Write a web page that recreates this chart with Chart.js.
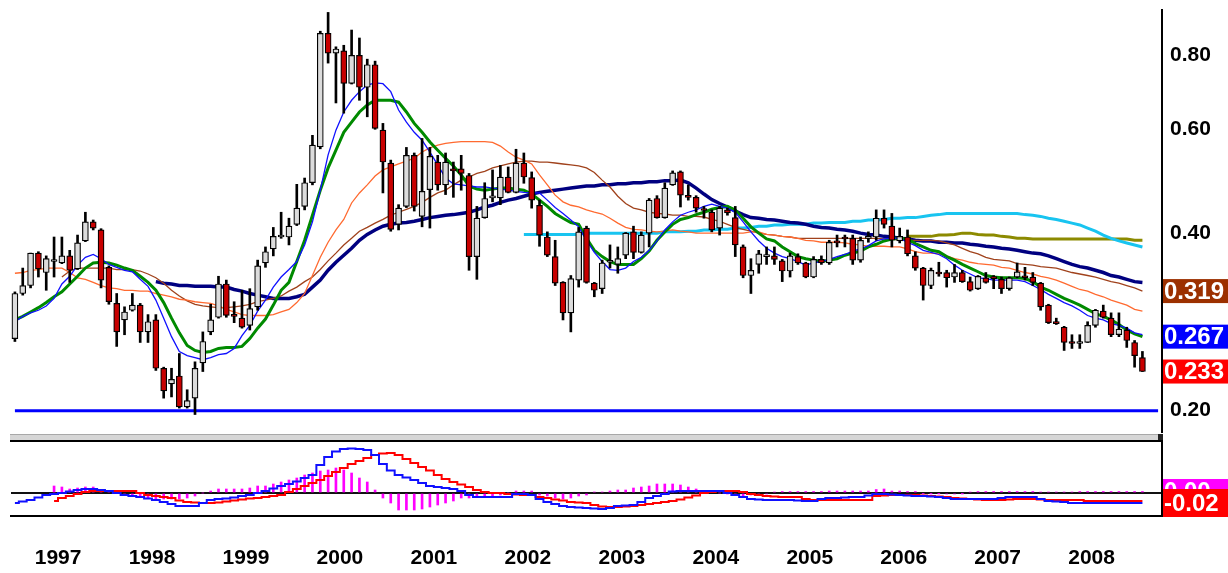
<!DOCTYPE html>
<html>
<head>
<meta charset="utf-8">
<script src="https://cdn.jsdelivr.net/npm/chart.js@4.4.0/dist/chart.umd.min.js"></script>
<style>
  body { margin: 0; background: #fff; width: 1228px; height: 573px; overflow: hidden; position: relative; }
  canvas { position: absolute; left: 0; }
  #price { top: 0; }
  #macd { top: 434px; }
</style>
</head>
<body>
<canvas id="price" width="1228" height="434"></canvas>
<canvas id="macd" width="1228" height="139"></canvas>
<script>
// *** DATA *** (monthly, Jan 1997 .. Jan 2009)
var years = ['1997','1998','1999','2000','2001','2002','2003','2004','2005','2006','2007','2008','2009'];
var slots = 147; // 145 candles + 2 empty slots on the right

var opens = [0.265,0.316,0.326,0.370,0.343,0.358,0.356,0.366,0.348,0.388,0.418,0.405,
  0.350,0.304,0.285,0.296,0.302,0.272,0.285,0.236,0.222,0.229,0.203,0.210,
  0.241,0.272,0.288,0.328,0.291,0.287,0.279,0.300,0.356,0.376,0.394,0.394,
  0.414,0.444,0.487,0.560,0.873,0.808,0.815,0.718,0.801,0.707,0.772,0.598,
  0.526,0.414,0.444,0.542,0.427,0.474,0.528,0.483,0.512,0.514,0.501,0.365,
  0.425,0.459,0.459,0.498,0.469,0.526,0.497,0.446,0.394,0.365,0.330,0.293,
  0.333,0.408,0.329,0.322,0.357,0.354,0.367,0.402,0.371,0.400,0.458,0.425,
  0.483,0.508,0.462,0.460,0.439,0.434,0.408,0.438,0.425,0.379,0.339,0.354,
  0.365,0.366,0.359,0.345,0.365,0.356,0.337,0.361,0.356,0.386,0.394,0.392,
  0.360,0.392,0.394,0.424,0.411,0.388,0.394,0.366,0.349,0.326,0.343,0.343,
  0.337,0.343,0.331,0.322,0.336,0.337,0.334,0.322,0.337,0.338,0.337,0.329,
  0.302,0.283,0.277,0.262,0.260,0.261,0.279,0.295,0.287,0.269,0.274,0.261,
  0.246];
var highs = [0.318,0.349,0.370,0.372,0.366,0.394,0.394,0.374,0.397,0.434,0.421,0.407,
  0.352,0.316,0.300,0.316,0.304,0.291,0.291,0.237,0.236,0.250,0.217,0.242,
  0.272,0.303,0.338,0.333,0.306,0.320,0.322,0.360,0.379,0.409,0.434,0.424,
  0.484,0.496,0.586,0.880,0.947,0.828,0.833,0.884,0.857,0.789,0.783,0.614,
  0.532,0.447,0.559,0.547,0.579,0.559,0.542,0.547,0.528,0.542,0.505,0.444,
  0.487,0.512,0.521,0.518,0.555,0.547,0.508,0.455,0.402,0.389,0.331,0.339,
  0.409,0.411,0.330,0.360,0.382,0.379,0.401,0.411,0.402,0.458,0.463,0.487,
  0.510,0.510,0.483,0.463,0.444,0.438,0.444,0.441,0.444,0.382,0.362,0.374,
  0.379,0.379,0.361,0.370,0.369,0.357,0.365,0.366,0.389,0.397,0.397,0.397,
  0.394,0.402,0.438,0.438,0.432,0.408,0.405,0.372,0.350,0.349,0.357,0.346,
  0.354,0.346,0.337,0.339,0.343,0.339,0.337,0.337,0.356,0.350,0.343,0.330,
  0.303,0.287,0.278,0.269,0.269,0.283,0.297,0.302,0.293,0.293,0.277,0.263,
  0.252];
var lows = [0.262,0.314,0.323,0.337,0.320,0.337,0.355,0.330,0.347,0.387,0.405,0.323,
  0.303,0.257,0.269,0.295,0.261,0.261,0.234,0.210,0.211,0.202,0.202,0.197,
  0.233,0.269,0.287,0.288,0.282,0.276,0.274,0.296,0.350,0.366,0.392,0.382,
  0.412,0.438,0.483,0.556,0.777,0.665,0.639,0.716,0.672,0.630,0.600,0.468,
  0.403,0.405,0.442,0.436,0.410,0.408,0.473,0.465,0.460,0.473,0.346,0.334,
  0.424,0.452,0.447,0.468,0.468,0.486,0.441,0.380,0.365,0.326,0.285,0.272,
  0.324,0.329,0.312,0.316,0.349,0.342,0.362,0.362,0.370,0.379,0.424,0.424,
  0.482,0.443,0.455,0.434,0.424,0.402,0.397,0.429,0.365,0.336,0.316,0.342,
  0.354,0.354,0.331,0.337,0.354,0.336,0.336,0.354,0.354,0.379,0.379,0.354,
  0.357,0.386,0.389,0.408,0.379,0.385,0.366,0.346,0.308,0.322,0.338,0.324,
  0.330,0.330,0.319,0.321,0.329,0.322,0.316,0.320,0.336,0.333,0.326,0.296,
  0.281,0.280,0.253,0.255,0.255,0.261,0.277,0.287,0.267,0.267,0.256,0.237,
  0.233];
var closes = [0.316,0.326,0.370,0.348,0.362,0.360,0.366,0.346,0.385,0.418,0.408,0.333,
  0.306,0.272,0.294,0.302,0.272,0.283,0.236,0.216,0.226,0.203,0.208,0.236,
  0.262,0.285,0.328,0.290,0.289,0.277,0.298,0.352,0.372,0.395,0.396,0.411,
  0.441,0.487,0.564,0.873,0.808,0.821,0.718,0.801,0.707,0.772,0.602,0.528,
  0.406,0.441,0.542,0.444,0.471,0.540,0.483,0.528,0.510,0.505,0.365,0.424,
  0.458,0.461,0.498,0.469,0.526,0.498,0.455,0.397,0.367,0.329,0.293,0.335,
  0.402,0.330,0.320,0.356,0.359,0.362,0.400,0.371,0.397,0.455,0.425,0.477,
  0.506,0.464,0.460,0.441,0.437,0.405,0.441,0.433,0.382,0.339,0.346,0.369,
  0.366,0.361,0.345,0.366,0.356,0.337,0.361,0.356,0.386,0.385,0.391,0.360,
  0.389,0.394,0.424,0.414,0.389,0.395,0.369,0.349,0.326,0.346,0.341,0.336,
  0.343,0.331,0.320,0.338,0.330,0.335,0.322,0.336,0.344,0.336,0.330,0.300,
  0.282,0.281,0.261,0.260,0.262,0.279,0.296,0.288,0.269,0.275,0.263,0.248,
  0.233];

// moving averages
var maBlue = [0.283,0.289,0.293,0.296,0.301,0.310,0.328,0.338,0.353,0.364,0.368,0.362,
  0.354,0.350,0.346,0.344,0.334,0.325,0.308,0.287,0.267,0.252,0.248,0.246,
  0.244,0.246,0.249,0.250,0.255,0.268,0.279,0.295,0.308,0.324,0.337,0.347,
  0.358,0.382,0.418,0.473,0.543,0.598,0.642,0.672,0.695,0.713,0.719,0.717,
  0.695,0.647,0.617,0.593,0.575,0.549,0.522,0.496,0.485,0.483,0.481,0.479,
  0.479,0.477,0.475,0.473,0.471,0.469,0.468,0.468,0.455,0.442,0.432,0.421,
  0.410,0.389,0.371,0.358,0.347,0.346,0.349,0.358,0.364,0.374,0.388,0.405,
  0.418,0.429,0.434,0.438,0.444,0.448,0.444,0.441,0.434,0.418,0.402,0.388,
  0.377,0.370,0.365,0.362,0.358,0.353,0.356,0.358,0.361,0.365,0.368,0.373,
  0.376,0.381,0.388,0.391,0.392,0.392,0.386,0.381,0.374,0.371,0.368,0.362,
  0.353,0.346,0.341,0.336,0.335,0.333,0.333,0.333,0.333,0.331,0.326,0.321,
  0.315,0.310,0.305,0.301,0.296,0.290,0.287,0.285,0.281,0.279,0.276,0.271,
  0.269];
var maGreen = [0.285,0.289,0.294,0.299,0.305,0.312,0.318,0.328,0.338,0.349,0.356,0.357,
  0.356,0.353,0.349,0.346,0.338,0.330,0.320,0.305,0.287,0.271,0.258,0.253,
  0.251,0.252,0.255,0.256,0.256,0.257,0.265,0.276,0.286,0.302,0.320,0.330,
  0.358,0.389,0.429,0.473,0.516,0.553,0.593,0.617,0.642,0.660,0.672,0.672,
  0.672,0.667,0.642,0.614,0.593,0.571,0.553,0.536,0.520,0.502,0.481,0.475,
  0.473,0.475,0.477,0.477,0.475,0.473,0.466,0.455,0.444,0.432,0.424,0.417,
  0.414,0.392,0.374,0.365,0.358,0.354,0.354,0.354,0.362,0.373,0.389,0.402,
  0.414,0.422,0.425,0.430,0.434,0.439,0.442,0.444,0.438,0.424,0.410,0.400,
  0.391,0.388,0.379,0.372,0.365,0.362,0.360,0.358,0.360,0.362,0.367,0.370,
  0.373,0.379,0.383,0.388,0.391,0.392,0.391,0.384,0.379,0.374,0.372,0.365,
  0.360,0.354,0.349,0.344,0.339,0.337,0.336,0.336,0.336,0.335,0.331,0.324,
  0.320,0.315,0.310,0.306,0.302,0.297,0.292,0.289,0.285,0.280,0.274,0.270,
  0.267];
var maOrange = [0.342,0.343,0.346,0.347,0.349,0.349,0.349,0.343,0.336,0.334,0.330,0.326,
  0.323,0.322,0.320,0.320,0.319,0.319,0.316,0.314,0.312,0.309,0.308,0.306,
  0.305,0.304,0.301,0.297,0.294,0.291,0.290,0.290,0.290,0.291,0.294,0.297,
  0.305,0.316,0.339,0.364,0.386,0.405,0.422,0.450,0.468,0.483,0.500,0.512,
  0.518,0.524,0.530,0.536,0.549,0.558,0.564,0.568,0.570,0.572,0.572,0.572,
  0.572,0.570,0.562,0.549,0.538,0.532,0.524,0.502,0.483,0.464,0.452,0.446,
  0.443,0.438,0.434,0.431,0.424,0.416,0.409,0.406,0.405,0.403,0.402,0.403,
  0.405,0.403,0.402,0.400,0.400,0.400,0.400,0.400,0.400,0.400,0.402,0.402,
  0.398,0.397,0.395,0.394,0.392,0.389,0.388,0.386,0.386,0.386,0.385,0.383,
  0.382,0.380,0.380,0.380,0.379,0.379,0.376,0.372,0.370,0.370,0.369,0.366,
  0.362,0.360,0.357,0.355,0.354,0.353,0.350,0.349,0.346,0.343,0.341,0.338,
  0.336,0.333,0.329,0.325,0.321,0.319,0.315,0.312,0.308,0.305,0.302,0.297,
  0.295];
var maBrown = [null,null,null,null,null,null,0.337,0.345,0.349,0.349,0.349,0.349,
  0.349,0.347,0.347,0.347,0.345,0.341,0.336,0.329,0.320,0.313,0.307,0.303,
  0.301,0.300,0.299,0.299,0.300,0.301,0.303,0.306,0.308,0.310,0.313,0.319,
  0.324,0.331,0.337,0.347,0.359,0.370,0.382,0.392,0.403,0.409,0.416,0.422,
  0.429,0.434,0.439,0.444,0.451,0.460,0.468,0.473,0.483,0.492,0.498,0.505,
  0.509,0.516,0.520,0.524,0.528,0.530,0.530,0.528,0.528,0.526,0.524,0.522,
  0.520,0.516,0.507,0.492,0.479,0.462,0.449,0.441,0.438,0.434,0.432,0.431,
  0.429,0.429,0.427,0.427,0.426,0.422,0.419,0.414,0.409,0.406,0.403,0.400,
  0.398,0.397,0.395,0.394,0.392,0.392,0.392,0.392,0.392,0.392,0.392,0.392,
  0.392,0.392,0.392,0.391,0.391,0.389,0.389,0.389,0.389,0.389,0.388,0.385,
  0.382,0.377,0.372,0.369,0.364,0.361,0.360,0.359,0.355,0.354,0.353,0.351,
  0.350,0.349,0.346,0.343,0.341,0.339,0.337,0.334,0.331,0.329,0.326,0.323,
  0.319];
var maNavy = [null,null,null,null,null,null,null,null,null,null,null,null,
  null,null,null,null,null,null,0.331,0.329,0.328,0.326,0.326,0.325,
  0.325,0.325,0.324,0.324,0.321,0.319,0.316,0.314,0.312,0.310,0.310,0.310,
  0.312,0.315,0.324,0.333,0.346,0.357,0.367,0.377,0.389,0.398,0.405,0.411,
  0.414,0.416,0.417,0.419,0.422,0.425,0.427,0.429,0.430,0.432,0.434,0.438,
  0.443,0.446,0.451,0.455,0.458,0.462,0.466,0.469,0.471,0.473,0.475,0.477,
  0.479,0.481,0.481,0.483,0.483,0.485,0.485,0.487,0.487,0.489,0.489,0.491,
  0.491,0.492,0.487,0.477,0.466,0.456,0.449,0.443,0.436,0.430,0.425,0.424,
  0.422,0.421,0.419,0.417,0.416,0.414,0.411,0.409,0.408,0.406,0.405,0.403,
  0.400,0.398,0.397,0.395,0.394,0.392,0.391,0.389,0.388,0.388,0.386,0.386,
  0.385,0.385,0.383,0.382,0.380,0.379,0.377,0.376,0.374,0.372,0.370,0.369,
  0.366,0.362,0.358,0.354,0.351,0.349,0.346,0.343,0.339,0.337,0.334,0.331,
  0.330];
var maCyan = [null,null,null,null,null,null,null,null,null,null,null,null,
  null,null,null,null,null,null,null,null,null,null,null,null,
  null,null,null,null,null,null,null,null,null,null,null,null,
  null,null,null,null,null,null,null,null,null,null,null,null,
  null,null,null,null,null,null,null,null,null,null,null,null,
  null,null,null,null,null,0.398,0.398,0.398,0.398,0.398,0.398,0.398,
  0.398,0.400,0.400,0.400,0.400,0.400,0.400,0.400,0.400,0.400,0.400,0.402,
  0.402,0.402,0.403,0.403,0.405,0.405,0.406,0.406,0.408,0.408,0.409,0.411,
  0.411,0.413,0.413,0.414,0.414,0.414,0.416,0.416,0.417,0.417,0.417,0.419,
  0.419,0.421,0.421,0.422,0.424,0.424,0.425,0.425,0.427,0.429,0.430,0.432,
  0.432,0.432,0.432,0.432,0.432,0.432,0.432,0.432,0.432,0.430,0.429,0.427,
  0.424,0.422,0.419,0.416,0.413,0.408,0.403,0.397,0.392,0.388,0.385,0.382,
  0.379];
var maOlive = [null,null,null,null,null,null,null,null,null,null,null,null,
  null,null,null,null,null,null,null,null,null,null,null,null,
  null,null,null,null,null,null,null,null,null,null,null,null,
  null,null,null,null,null,null,null,null,null,null,null,null,
  null,null,null,null,null,null,null,null,null,null,null,null,
  null,null,null,null,null,null,null,null,null,null,null,null,
  null,null,null,null,null,null,null,null,null,null,null,null,
  null,null,null,null,null,null,null,null,null,null,null,null,
  null,null,null,null,null,null,null,null,null,null,null,null,
  null,null,null,null,null,null,0.395,0.395,0.395,0.395,0.397,0.397,
  0.398,0.400,0.400,0.398,0.397,0.397,0.395,0.394,0.392,0.392,0.391,0.391,
  0.391,0.391,0.391,0.391,0.391,0.391,0.391,0.391,0.391,0.391,0.391,0.389,
  0.389];
var supportLevel = 0.20;
var priceTicks = [0.2, 0.4, 0.6, 0.8];
var lastLabels = [
  { value: 0.319, bg: '#9c3000' },
  { value: 0.267, bg: '#0000ff' },
  { value: 0.233, bg: '#ff0000' }
];

// MACD panel
var macdLine = [-0.020,-0.017,-0.014,-0.009,-0.004,-0.002,0.000,0.003,0.006,0.008,0.008,0.006,
  0.004,0.000,-0.004,-0.006,-0.008,-0.011,-0.014,-0.018,-0.022,-0.026,-0.026,-0.026,
  -0.020,-0.014,-0.012,-0.011,-0.009,-0.006,-0.004,0.000,0.004,0.009,0.014,0.018,
  0.023,0.030,0.036,0.056,0.072,0.083,0.088,0.089,0.088,0.086,0.076,0.058,
  0.045,0.036,0.031,0.026,0.020,0.014,0.012,0.010,0.008,0.004,-0.004,-0.008,
  -0.008,-0.008,-0.008,-0.008,-0.002,-0.002,-0.004,-0.012,-0.018,-0.022,-0.026,-0.028,
  -0.029,-0.030,-0.031,-0.032,-0.030,-0.026,-0.025,-0.024,-0.018,-0.010,-0.006,-0.002,
  0.003,0.004,0.004,0.004,0.004,0.004,0.004,0.000,-0.004,-0.008,-0.012,-0.013,
  -0.014,-0.014,-0.014,-0.014,-0.015,-0.016,-0.016,-0.012,-0.010,-0.010,-0.009,-0.008,
  -0.008,-0.005,-0.002,-0.002,-0.003,-0.004,-0.005,-0.006,-0.006,-0.007,-0.008,-0.010,
  -0.012,-0.012,-0.012,-0.012,-0.012,-0.012,-0.010,-0.008,-0.008,-0.008,-0.008,-0.012,
  -0.016,-0.017,-0.018,-0.020,-0.020,-0.020,-0.020,-0.020,-0.020,-0.020,-0.020,-0.020,
  -0.020];
var signalLine = [null,null,null,null,null,-0.016,-0.010,-0.006,-0.002,0.002,0.004,0.004,
  0.004,0.004,0.004,0.004,0.000,-0.004,-0.006,-0.008,-0.010,-0.015,-0.018,-0.019,
  -0.020,-0.020,-0.019,-0.017,-0.015,-0.013,-0.011,-0.010,-0.008,-0.006,-0.004,0.002,
  0.008,0.014,0.020,0.026,0.034,0.042,0.050,0.058,0.064,0.070,0.076,0.079,
  0.080,0.076,0.068,0.060,0.052,0.045,0.036,0.028,0.022,0.017,0.012,0.006,
  0.002,0.000,0.000,-0.002,-0.003,-0.004,-0.004,-0.008,-0.010,-0.013,-0.015,-0.018,
  -0.019,-0.020,-0.024,-0.027,-0.028,-0.028,-0.027,-0.026,-0.024,-0.022,-0.020,-0.018,
  -0.016,-0.013,-0.009,-0.005,0.000,0.002,0.004,0.004,0.004,0.002,-0.002,-0.004,
  -0.006,-0.007,-0.008,-0.008,-0.008,-0.012,-0.014,-0.014,-0.014,-0.014,-0.014,-0.014,
  -0.014,-0.014,-0.006,-0.005,-0.004,-0.004,-0.004,-0.004,-0.005,-0.006,-0.007,-0.008,
  -0.010,-0.011,-0.012,-0.013,-0.014,-0.014,-0.014,-0.013,-0.012,-0.012,-0.012,-0.013,
  -0.014,-0.014,-0.014,-0.014,-0.014,-0.016,-0.016,-0.016,-0.016,-0.016,-0.016,-0.016,
  -0.016];
var histogram = [null,null,null,null,null,0.014,0.012,0.008,0.010,0.012,0.012,0.006,
  0.002,0.000,-0.002,-0.004,-0.006,-0.010,-0.012,-0.012,-0.012,-0.012,-0.010,-0.006,
  0.000,0.004,0.008,0.008,0.008,0.008,0.010,0.014,0.014,0.018,0.022,0.026,
  0.030,0.036,0.040,0.044,0.046,0.050,0.046,0.040,0.030,0.022,0.006,-0.010,
  -0.020,-0.034,-0.034,-0.034,-0.032,-0.028,-0.024,-0.020,-0.016,-0.010,-0.010,-0.008,
  -0.006,-0.006,-0.004,0.000,0.004,0.004,0.004,-0.004,-0.006,-0.010,-0.012,-0.010,
  -0.006,-0.004,0.002,0.002,0.004,0.006,0.006,0.010,0.012,0.014,0.018,0.018,
  0.018,0.016,0.012,0.008,0.004,0.002,0.000,-0.002,-0.004,-0.006,-0.004,-0.004,
  -0.002,0.002,0.003,0.003,0.003,0.003,0.003,0.003,0.004,0.004,0.004,0.004,
  0.004,0.004,0.007,0.008,0.004,0.004,0.003,0.003,-0.001,-0.001,-0.001,-0.002,
  -0.002,-0.001,0.002,0.003,0.003,0.003,0.003,0.003,0.003,0.003,0.003,0.002,
  0.002,0.002,0.002,0.002,0.003,0.003,0.003,0.003,0.003,0.003,0.003,0.003,
  0.003];
var macdLast = { value: -0.02, text: '-0.02', bg: '#ff0000' };
var histLast = { value: 0.003, text: '0.00', bg: '#ff00ff' };

// *** BUILD ***
var labels = [];
for (var i = 0; i < slots; i++) {
    labels.push(years[Math.floor(i / 12)] + '-' + ((i % 12) + 1));
}
var fontFamily = '"Liberation Sans", Arial, sans-serif';

function lineSet(data, color, width, order) {
    return {
        type: 'line',
        data: data,
        borderColor: color,
        borderWidth: width,
        pointRadius: 0,
        tension: 0,
        fill: false,
        order: order
    };
}

// keep the plot area exactly where the layout puts it
function noScalePadding(s) {
    s.paddingLeft = 0;
    s.paddingRight = 0;
    s.paddingTop = 0;
    s.paddingBottom = 0;
}

var bodyColors = opens.map(function(o, i) { return closes[i] >= o ? '#dcdcdc' : '#c80000'; });

var priceLabels = {
    id: 'priceLabels',
    afterDraw: function(chart) {
        var ctx = chart.ctx;
        var y = chart.scales.y;
        ctx.save();
        ctx.font = 'bold 24px ' + fontFamily;
        ctx.textBaseline = 'middle';
        lastLabels.forEach(function(l) {
            var py = y.getPixelForValue(l.value);
            ctx.fillStyle = l.bg;
            ctx.fillRect(chart.chartArea.right + 1, py - 12, 70, 24);
            ctx.fillStyle = '#fff';
            ctx.fillText(l.value.toFixed(3), chart.chartArea.right + 2, py + 1);
        });
        ctx.restore();
    }
};

var macdFrame = {
    id: 'macdFrame',
    beforeDraw: function(chart) {
        var ctx = chart.ctx;
        var a = chart.chartArea;
        ctx.save();
        // scroll bar strip between the panels
        ctx.fillStyle = '#d6d6d6';
        ctx.fillRect(a.left - 1, 0, a.right - a.left - 1, 6);
        ctx.fillStyle = '#a8a8a8';
        ctx.fillRect(a.left - 1, 0, a.right - a.left - 1, 1);
        ctx.fillStyle = '#222';
        ctx.fillRect(a.right - 4, 0, 4, 6);
        ctx.fillRect(a.right - 1, 0, 2, a.top);
        ctx.restore();
    },
    afterDraw: function(chart) {
        var ctx = chart.ctx;
        var a = chart.chartArea;
        var y = chart.scales.y;
        ctx.save();
        ctx.fillStyle = '#000';
        ctx.fillRect(a.left - 1, a.top - 1, a.right - a.left + 1, 2);
        ctx.font = 'bold 24px ' + fontFamily;
        ctx.textBaseline = 'middle';
        var pm = y.getPixelForValue(macdLast.value);
        var ph = y.getPixelForValue(histLast.value);
        ctx.fillStyle = histLast.bg;
        ctx.fillRect(a.right + 1, pm - 24, 70, 12);
        ctx.fillStyle = '#fff';
        ctx.fillText(histLast.text, a.right + 2, ph + 1);
        ctx.fillStyle = macdLast.bg;
        ctx.fillRect(a.right + 1, pm - 14, 70, 28);
        ctx.fillStyle = '#fff';
        ctx.fillText(macdLast.text, a.right + 2, pm + 1);
        ctx.restore();
    }
};

var priceChart = new Chart(document.getElementById('price'), {
    type: 'bar',
    data: {
        labels: labels,
        datasets: [
            {
                label: 'body',
                data: opens.map(function(o, i) { return [o, closes[i]]; }),
                backgroundColor: bodyColors,
                borderColor: '#000',
                borderWidth: 1.2,
                borderSkipped: false,
                barThickness: 6,
                minBarLength: 2,
                grouped: false,
                order: 1
            },
            {
                label: 'wick',
                data: lows.map(function(l, i) { return [l, highs[i]]; }),
                backgroundColor: '#000',
                barThickness: 2,
                grouped: false,
                order: 2
            },
            lineSet(maBlue, '#1010ff', 1.3, 3),
            lineSet(maGreen, '#008a00', 3, 4),
            lineSet(maOrange, '#ff6a30', 1.3, 5),
            lineSet(maBrown, '#a0421c', 1.3, 6),
            lineSet(maNavy, '#000080', 3.5, 7),
            lineSet(maCyan, '#18c4f0', 3, 8),
            lineSet(maOlive, '#8c8a00', 3, 9),
            lineSet(labels.map(function() { return supportLevel; }), '#0000ff', 3, 10)
        ]
    },
    options: {
        responsive: false,
        animation: false,
        devicePixelRatio: 1,
        layout: { padding: { left: 11, top: 10, right: 0, bottom: 2 } },
        plugins: { legend: { display: false }, tooltip: { enabled: false } },
        scales: {
            x: { type: 'category', offset: true, display: false },
            y: {
                type: 'logarithmic',
                position: 'right',
                min: 0.184,
                max: 0.956,
                afterBuildTicks: function(s) { s.ticks = priceTicks.map(function(v) { return { value: v }; }); },
                afterFit: function(s) { s.width = 66; noScalePadding(s); },
                grid: { display: false, drawTicks: false },
                border: { display: true, color: '#000', width: 2 },
                ticks: {
                    padding: 8,
                    color: '#000',
                    font: { family: fontFamily, size: 21, weight: 'bold' },
                    callback: function(v) { return Number(v).toFixed(2); }
                }
            }
        }
    },
    plugins: [priceLabels]
});

var macdChart = new Chart(document.getElementById('macd'), {
    type: 'bar',
    data: {
        labels: labels,
        datasets: [
            { type: 'line', data: macdLine, borderColor: '#1010ff', borderWidth: 2, pointRadius: 0, stepped: 'middle', order: 1 },
            { type: 'line', data: signalLine, borderColor: '#ff0000', borderWidth: 2, pointRadius: 0, stepped: 'middle', order: 2 },
            { data: histogram, backgroundColor: '#ff00ff', barThickness: 2, order: 3 }
        ]
    },
    options: {
        responsive: false,
        animation: false,
        devicePixelRatio: 1,
        layout: { padding: { left: 11, top: 7, right: 0, bottom: 0 } },
        plugins: { legend: { display: false }, tooltip: { enabled: false } },
        scales: {
            x: {
                type: 'category',
                offset: true,
                afterFit: function(s) { s.height = 57; noScalePadding(s); },
                grid: { display: false, drawTicks: false },
                border: { display: true, color: '#000', width: 2 },
                ticks: {
                    autoSkip: false,
                    maxRotation: 0,
                    minRotation: 0,
                    padding: 30,
                    labelOffset: 4,
                    color: '#000',
                    font: { family: fontFamily, size: 21, weight: 'bold' },
                    callback: function(v, i) {
                        return (i % 12 === 5 && i < 145) ? years[Math.floor(i / 12)] : '';
                    }
                }
            },
            y: {
                position: 'right',
                min: -0.046,
                max: 0.104,
                afterBuildTicks: function(s) { s.ticks = [{ value: 0 }]; },
                afterFit: function(s) { s.width = 66; noScalePadding(s); },
                grid: { display: true, color: '#111', lineWidth: 2, drawTicks: false },
                border: { display: true, color: '#000', width: 2 },
                ticks: { display: false }
            }
        }
    },
    plugins: [macdFrame]
});
</script>
</body>
</html>
